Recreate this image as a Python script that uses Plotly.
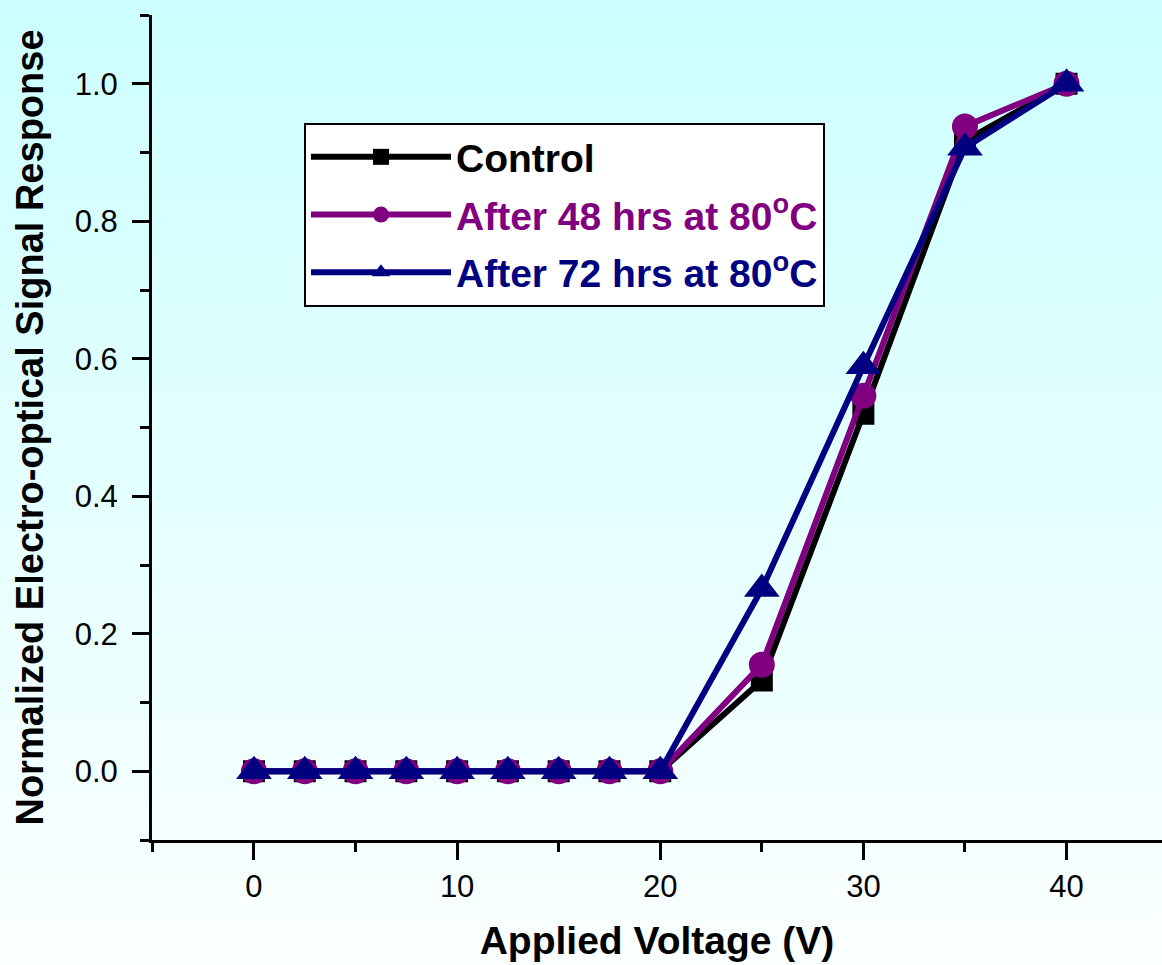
import base64
import plotly.graph_objects as go

# ---- data ----
voltage = [0, 2.5, 5, 7.5, 10, 12.5, 15, 17.5, 20, 25, 30, 35, 40]
control = [0, 0, 0, 0, 0, 0, 0, 0, 0, 0.132, 0.52, 0.917, 1.0]
after_48 = [0, 0, 0, 0, 0, 0, 0, 0, 0, 0.155, 0.546, 0.938, 1.0]
after_72 = [0, 0, 0, 0, 0, 0, 0, 0, 0, 0.265, 0.589, 0.907, 1.0]

series_names = ["Control", "After 48 hrs at 80<sup>o</sup>C", "After 72 hrs at 80<sup>o</sup>C"]
series_colors = ["#000000", "#800080", "#000080"]
series_symbols = ["square", "circle", "triangle-up"]
series_sizes = [22, 26, 31]

x_ticks = [0, 10, 20, 30, 40]
x_minor = [-5, 5, 15, 25, 35]
x_title = "Applied Voltage (V)"
y_title = "Normalized Electro-optical Signal Response"

FONT = "Liberation Sans, Arial, sans-serif"

fig = go.Figure()
for i, (vals, name, col, sym, sz) in enumerate(zip([control, after_48, after_72], series_names,
                                                   series_colors, series_symbols, series_sizes)):
    fig.add_trace(go.Scatter(
        x=voltage, y=vals, mode="lines+markers",
        name=f'<span style="color:{col}">{name}</span>',
        legendgroup=f"g{i}",
        line=dict(color=col, width=6),
        marker=dict(symbol=sym, size=sz, color=col, line=dict(width=0)),
        cliponaxis=False,
    ))

# gradient background as svg image
svg = ('<svg xmlns="http://www.w3.org/2000/svg" width="100" height="100" preserveAspectRatio="none">'
       '<defs><linearGradient id="g" x1="0" y1="0" x2="0" y2="1">'
       '<stop offset="0" stop-color="#ccffff"/><stop offset="1" stop-color="#fbffff"/>'
       '</linearGradient></defs><rect width="100" height="100" fill="url(#g)"/></svg>')
uri = "data:image/svg+xml;base64," + base64.b64encode(svg.encode()).decode()

W, H = 1162, 965
ml, mr, mt, mb = 152, 0, 15, 125
pw, ph = W - ml - mr, H - mt - mb

fig.add_layout_image(dict(
    source=uri, xref="paper", yref="paper",
    x=-ml / pw, y=1 + mt / ph, sizex=W / pw, sizey=H / ph,
    xanchor="left", yanchor="top", sizing="stretch", layer="below",
))

axis_common = dict(
    showline=True, linewidth=3, linecolor="black", mirror=False,
    ticks="outside", tickwidth=3, ticklen=17, tickcolor="black",
    showgrid=False, zeroline=False,
    tickfont=dict(family=FONT, size=31, color="black"),
)

fig.update_xaxes(
    range=[-5.02, 44.7], tickmode="array", tickvals=x_ticks,
    minor=dict(ticks="outside", tickvals=x_minor, ticklen=9, tickwidth=3, tickcolor="black"),
    ticklabelstandoff=0,
    title=dict(text=x_title, font=dict(family=FONT, size=39, color="black", weight="bold"), standoff=24),
    **axis_common,
)
fig.update_yaxes(
    range=[-0.1, 1.1], tickmode="linear", tick0=0, dtick=0.2, tickformat=".1f",
    minor=dict(ticks="outside", dtick=0.1, tick0=-0.1, ticklen=9, tickwidth=3, tickcolor="black"),
    ticklabelstandoff=8,
    title=dict(text=y_title, font=dict(family=FONT, size=38, color="black", weight="bold"), standoff=20),
    **axis_common,
)

fig.update_layout(
    width=W, height=H,
    margin=dict(l=ml, r=mr, t=mt, b=mb),
    paper_bgcolor="#e6ffff", plot_bgcolor="rgba(0,0,0,0)",
    font=dict(family=FONT, color="black"),
    legend=dict(
        x=(304 - ml) / pw, y=1 - (123 - mt) / ph, xanchor="left", yanchor="top",
        bgcolor="white", bordercolor="black", borderwidth=2,
        font=dict(family=FONT, size=39, weight="bold"),
        traceorder="grouped", tracegroupgap=4, itemwidth=140,
    ),
    showlegend=True,
)

fig.write_html("out.html")
